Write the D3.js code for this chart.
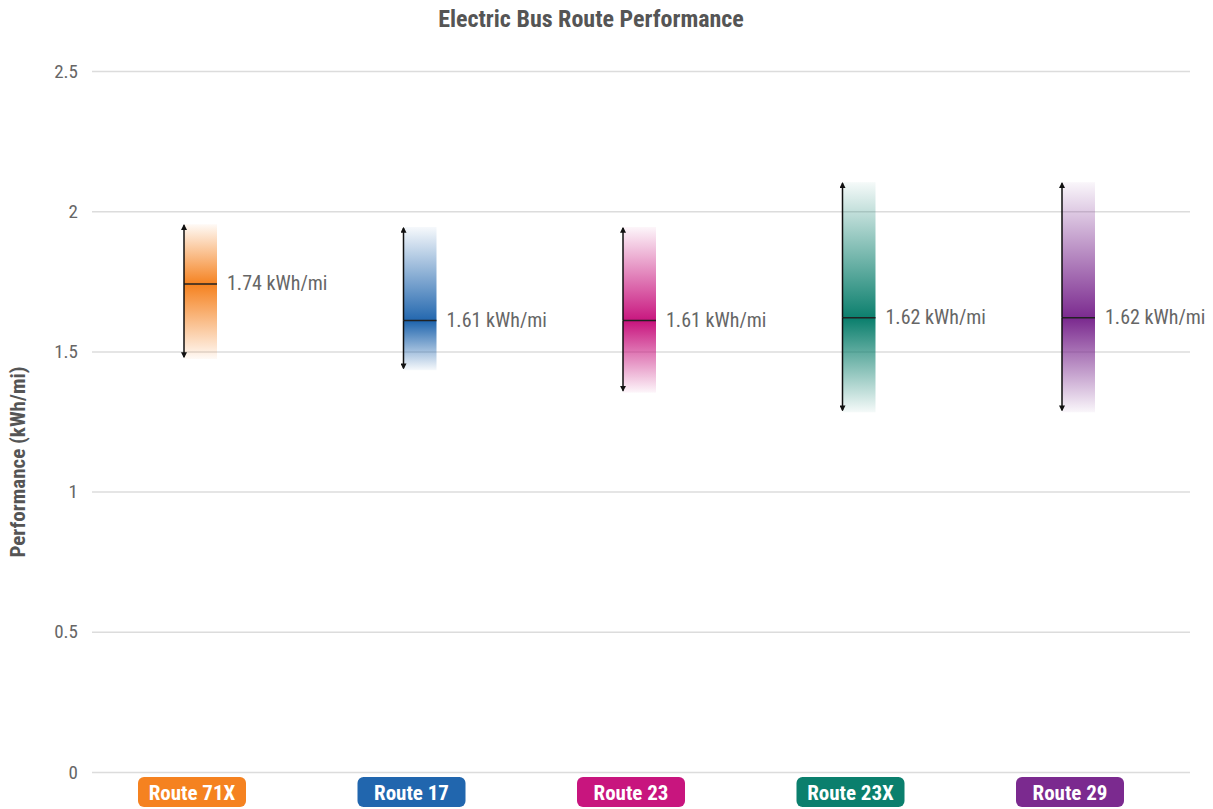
<!DOCTYPE html>
<html>
<head>
<meta charset="utf-8">
<script src="https://cdn.jsdelivr.net/npm/d3@7"></script>
<style>
  html, body { margin: 0; padding: 0; background: #fff; }
  svg { display: block; }
  text { font-family: "Liberation Sans Narrow", "Arial Narrow", "Roboto Condensed", sans-serif; }
</style>
</head>
<body>
<svg id="chart" width="1213" height="809"></svg>
<script>
// Routes and their energy use ranges (kWh/mi)
const routes = ["Route 71X", "Route 17", "Route 23", "Route 23X", "Route 29"];
const colors = ["#f58220", "#2166ae", "#c8157e", "#0b7f6d", "#7b2a8f"];
const typical = [1.74, 1.61, 1.61, 1.62, 1.62];
const highs = [1.95, 1.94, 1.94, 2.10, 2.10];
const lows = [1.48, 1.44, 1.36, 1.29, 1.29];
const yTicks = [0, 0.5, 1, 1.5, 2, 2.5];

const W = 1213, H = 809;
const margin = { left: 92, right: 23, top: 71, bottom: 37 };
const svg = d3.select("#chart");

const y = d3.scaleLinear().domain([0, 2.5]).range([H - margin.bottom, margin.top]);
const x = d3.scalePoint().domain(routes).range([192, 1070]);

const bandW = 33;
const arrowOff = -8;

// Title
svg.append("text")
  .attr("x", 591).attr("y", 27)
  .attr("text-anchor", "middle")
  .attr("font-size", 24).attr("font-weight", "bold")
  .attr("fill", "#555")
  .text("Electric Bus Route Performance");

// Y axis with gridlines
const yAxis = d3.axisLeft(y).tickValues(yTicks)
  .tickSize(-(W - margin.left - margin.right))
  .tickPadding(14)
  .tickFormat(d => d3.format("")(d));
const gy = svg.append("g")
  .attr("transform", `translate(${margin.left},0)`)
  .call(yAxis);
gy.select(".domain").remove();
gy.selectAll(".tick line").attr("stroke", "#dcdcdc").attr("stroke-width", 1.5);
gy.selectAll(".tick text")
  .attr("font-size", 19).attr("fill", "#666")
  .attr("font-family", "\"Liberation Sans Narrow\", \"Arial Narrow\", \"Roboto Condensed\", sans-serif");

// Y axis title
svg.append("text")
  .attr("transform", `translate(25,${462}) rotate(-90)`)
  .attr("text-anchor", "middle")
  .attr("font-size", 21).attr("font-weight", "bold")
  .attr("fill", "#555")
  .text("Performance (kWh/mi)");

// Gradients: strongest at the typical value, fading toward the range ends
const defs = svg.append("defs");
routes.forEach((r, i) => {
  const top = y(highs[i]), bot = y(lows[i]), mid = y(typical[i]);
  const midPct = (mid - top) / (bot - top) * 100;
  const g = defs.append("linearGradient")
    .attr("id", "grad" + i)
    .attr("x1", 0).attr("x2", 0).attr("y1", 0).attr("y2", 1);
  g.append("stop").attr("offset", "0%").attr("stop-color", colors[i]).attr("stop-opacity", 0.04);
  g.append("stop").attr("offset", midPct + "%").attr("stop-color", colors[i]).attr("stop-opacity", 1);
  g.append("stop").attr("offset", "100%").attr("stop-color", colors[i]).attr("stop-opacity", 0.04);
});

// Arrow marker
defs.append("marker")
  .attr("id", "arrow")
  .attr("viewBox", "0 0 10 10")
  .attr("refX", 8).attr("refY", 5)
  .attr("markerWidth", 6).attr("markerHeight", 6)
  .attr("markerUnits", "userSpaceOnUse")
  .attr("orient", "auto-start-reverse")
  .append("path").attr("d", "M0,0 L10,5 L0,10 Z").attr("fill", "#111");

const groups = svg.append("g").selectAll("g")
  .data(routes).join("g");

groups.each(function(r, i) {
  const g = d3.select(this);
  const ax = x(r) + arrowOff;
  const yTop = y(highs[i]), yBot = y(lows[i]), yMid = y(typical[i]);

  g.append("rect")
    .attr("x", ax).attr("width", bandW)
    .attr("y", yTop - 1).attr("height", yBot - yTop + 3)
    .attr("fill", `url(#grad${i})`);

  g.append("line")
    .attr("x1", ax).attr("x2", ax + bandW)
    .attr("y1", yMid).attr("y2", yMid)
    .attr("stroke", "#222").attr("stroke-width", 1.5);

  g.append("line")
    .attr("x1", ax).attr("x2", ax)
    .attr("y1", yMid).attr("y2", yTop)
    .attr("stroke", "#111").attr("stroke-width", 1.5)
    .attr("marker-end", "url(#arrow)");
  g.append("line")
    .attr("x1", ax).attr("x2", ax)
    .attr("y1", yMid).attr("y2", yBot)
    .attr("stroke", "#111").attr("stroke-width", 1.5)
    .attr("marker-end", "url(#arrow)");

  g.append("text")
    .attr("x", ax + bandW + 10).attr("y", yMid + 6)
    .attr("font-size", 20).attr("fill", "#666")
    .text(d3.format(".2f")(typical[i]) + " kWh/mi");

  // Category pill
  const pw = 108, ph = 30;
  g.append("rect")
    .attr("x", x(r) - pw / 2).attr("y", 777)
    .attr("width", pw).attr("height", ph)
    .attr("rx", 6).attr("fill", colors[i]);
  g.append("text")
    .attr("x", x(r)).attr("y", 800)
    .attr("text-anchor", "middle")
    .attr("font-size", 21).attr("font-weight", "bold")
    .attr("fill", "#fff")
    .text(r);
});
</script>
</body>
</html>
